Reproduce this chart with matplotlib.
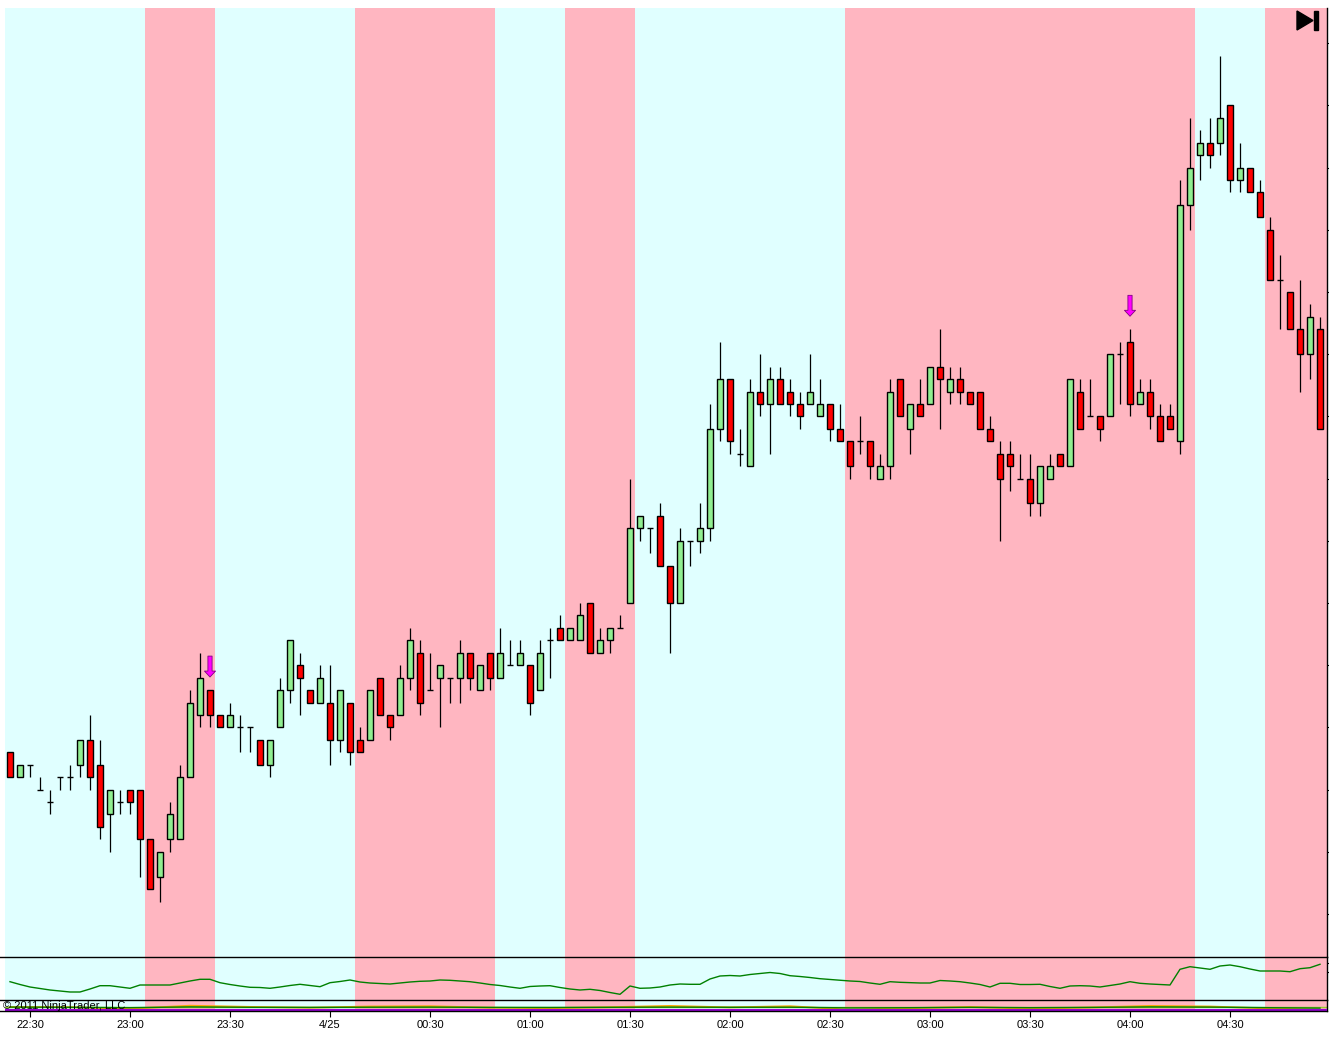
import numpy as np
import pandas as pd
import matplotlib
matplotlib.use('Agg')
import matplotlib.pyplot as plt
from matplotlib.lines import Line2D
from matplotlib.patches import Polygon, Rectangle

plt.rcParams['font.family'] = ['Liberation Sans', 'DejaVu Sans']

W, H = 1329, 1039

# 3 minute bars, prices in ticks above BASE
BASE = 1.4560
TICK = 0.0001
opens = [13, 11, 12, 10, 9, 11, 11, 12, 14, 12, 8, 9, 10, 10, 6, 3, 6, 6, 11, 16, 18, 16,
         15, 15, 15, 14, 12, 15, 18, 20, 18, 17, 17, 14, 17, 14, 14, 19, 16, 16, 19, 21, 18,
         19, 19, 19, 21, 18, 21, 19, 20, 20, 20, 18, 22, 23, 22, 22, 25, 21, 22, 23, 25, 31,
         31, 32, 28, 25, 30, 30, 31, 39, 43, 37, 36, 42, 41, 43, 42, 41, 41, 40, 41, 39, 38,
         38, 38, 35, 36, 43, 39, 41, 41, 44, 42, 43, 42, 42, 39, 37, 37, 35, 35, 33, 35, 37,
         36, 42, 40, 40, 40, 45, 46, 41, 42, 40, 40, 38, 57, 61, 62, 62, 65, 59, 60, 58, 55,
         51, 50, 47, 45, 47]
highs = [13, 12, 12, 11, 10, 11, 12, 14, 16, 14, 10, 10, 10, 10, 6, 5, 9, 12, 18, 21, 18, 16,
         17, 16, 15, 14, 14, 19, 22, 21, 18, 20, 20, 18, 17, 15, 18, 19, 16, 20, 23, 22, 21,
         20, 19, 22, 21, 20, 21, 23, 22, 22, 20, 22, 23, 24, 23, 25, 25, 23, 23, 24, 35, 32,
         31, 33, 28, 31, 30, 33, 41, 46, 43, 39, 43, 45, 44, 44, 43, 42, 45, 43, 41, 41, 38,
         40, 38, 37, 43, 43, 41, 43, 44, 47, 44, 44, 42, 42, 40, 38, 38, 37, 37, 36, 37, 37,
         43, 43, 43, 40, 45, 46, 47, 43, 43, 41, 41, 59, 64, 63, 64, 69, 65, 62, 60, 59, 56,
         53, 50, 51, 49, 48]
lows = [11, 11, 11, 10, 8, 10, 10, 11, 10, 6, 5, 8, 8, 3, 2, 1, 5, 6, 11, 15, 15, 15,
        15, 13, 13, 12, 11, 15, 17, 16, 17, 17, 12, 13, 12, 13, 14, 16, 14, 16, 18, 16, 18,
        15, 17, 17, 18, 18, 18, 19, 20, 20, 16, 18, 19, 22, 22, 22, 21, 21, 21, 23, 25, 30,
        29, 28, 21, 25, 28, 29, 30, 38, 37, 36, 36, 40, 37, 41, 40, 39, 41, 40, 38, 38, 35,
        37, 35, 35, 35, 40, 37, 40, 41, 39, 41, 41, 41, 39, 38, 30, 34, 35, 32, 32, 35, 36,
        36, 39, 40, 38, 40, 41, 40, 41, 39, 38, 39, 37, 55, 59, 60, 61, 58, 58, 58, 56, 51,
        47, 47, 42, 43, 39]
closes = [11, 12, 12, 10, 9, 11, 11, 14, 11, 7, 10, 9, 9, 6, 2, 5, 8, 11, 17, 19, 16, 15,
          16, 15, 15, 12, 14, 18, 22, 19, 17, 19, 14, 18, 13, 13, 18, 16, 15, 19, 22, 17, 18,
          20, 19, 21, 19, 20, 19, 21, 20, 21, 17, 21, 22, 22, 23, 24, 21, 22, 23, 23, 31, 32,
          31, 28, 25, 30, 30, 31, 39, 43, 38, 37, 42, 41, 43, 41, 41, 40, 42, 41, 39, 38, 36,
          38, 36, 36, 42, 40, 41, 40, 44, 43, 43, 42, 41, 39, 38, 35, 36, 35, 33, 36, 36, 36,
          43, 39, 40, 39, 45, 45, 41, 42, 40, 38, 39, 57, 60, 62, 61, 64, 59, 60, 58, 56, 51,
          51, 47, 45, 48, 39]

# bars (first, last) with pink background, the rest is light cyan
pink_spans = [(14, 20), (35, 48), (56, 62), (84, 118), (126, 131)]
# bars with a sell arrow above them
signal_bars = [20, 112]

# indicator panel (one value per bar)
adx = [18.6, 15.8, 13.3, 11.8, 10.3, 9.3, 8.3, 8.3, 11.3, 14.6, 14.6, 13.3, 12.0, 15.3,
       15.3, 15.3, 15.3, 17.3, 19.3, 21.0, 21.0, 17.6, 15.8, 14.3, 13.0, 12.8, 12.0, 13.3,
       14.8, 16.0, 14.8, 13.6, 17.6, 18.8, 20.3, 18.3, 17.3, 16.8, 16.3, 17.3, 18.3, 19.0,
       19.3, 20.3, 20.0, 19.3, 18.6, 17.3, 15.8, 14.8, 13.3, 12.0, 13.8, 14.3, 14.6, 12.8,
       11.3, 10.3, 11.0, 9.8, 7.8, 6.0, 14.3, 12.0, 12.3, 13.3, 15.3, 16.3, 16.0, 16.0,
       21.3, 24.3, 24.8, 24.3, 25.8, 26.8, 27.8, 26.8, 24.6, 23.8, 22.8, 21.6, 20.8, 20.1,
       19.3, 18.8, 17.3, 16.0, 18.6, 18.0, 17.6, 17.3, 17.3, 19.8, 19.3, 18.6, 17.3, 15.8,
       13.3, 17.0, 17.0, 15.8, 15.8, 16.0, 13.8, 12.0, 14.3, 14.6, 14.3, 13.3, 14.8, 16.3,
       18.6, 17.0, 16.3, 15.8, 15.3, 31.0, 33.6, 32.3, 31.0, 34.3, 35.3, 33.6, 31.3, 29.3,
       29.3, 29.3, 28.6, 31.6, 32.6, 36.0]

# small lower panel, read every 6 bars
sub_bars = [0, 6, 12, 18, 24, 30, 36, 42, 48, 54, 60, 66, 72, 78, 84, 90, 96, 102, 108,
            114, 120, 126, 131]
sub_orange = [3.7, 3.5, 2.0, 5.0, 3.8, 3.0, 4.2, 4.5, 3.0, 2.5, 3.5, 4.8, 3.3, 4.5, 1.0,
              2.5, 3.8, 2.0, 3.2, 4.8, 4.2, 2.2, 1.0]
sub_green = [3.6, 3.4, 3.0, 3.8, 3.4, 3.3, 3.5, 3.6, 3.3, 3.2, 3.4, 3.6, 3.4, 3.5, 2.8,
             3.0, 3.4, 3.0, 3.3, 3.8, 3.6, 3.0, 2.6]

CYAN = '#E0FFFF'
PINK = '#FFB6C1'


def rect(top, bot):
    # axes box from pixel rows
    return [5 / W, 1 - bot / H, (1327 - 5) / W, (bot - top) / H]


def fpx(px, py):
    return px / W, 1 - py / H


n = len(opens)
x = np.arange(n)
o = BASE + np.array(opens) * TICK
h = BASE + np.array(highs) * TICK
l = BASE + np.array(lows) * TICK
c = BASE + np.array(closes) * TICK
times = pd.date_range('2011-04-24 22:24', periods=n, freq='3min')

fig = plt.figure(figsize=(W / 100, H / 100), dpi=100)
fig.patch.set_facecolor('white')
ax = fig.add_axes(rect(8, 957.3))
ax2 = fig.add_axes(rect(957.3, 1000.3), sharex=ax)
ax3 = fig.add_axes(rect(1000.3, 1010.7), sharex=ax)

xmin, xmax = -0.5, 131.7
for a in (ax, ax2, ax3):
    a.set_facecolor(CYAN)
    for s, e in pink_spans:
        right = e + 0.5 if e < n - 1 else xmax + 1
        a.axvspan(s - 0.5, right, color=PINK, lw=0, zorder=0)
    for side in ('top', 'left', 'bottom'):
        a.spines[side].set_visible(False)
    a.spines['right'].set_linewidth(1)
    a.yaxis.tick_right()
    a.tick_params(axis='y', right=True, left=False, labelright=False, labelleft=False,
                  length=4, width=0.8)
    a.tick_params(axis='x', bottom=False, labelbottom=False)

# candles
ax.vlines(x, l, h, color='black', lw=0.9, zorder=2)
up = c > o
down = c < o
doji = c == o
ax.bar(x[up], (c - o)[up], bottom=o[up], width=0.52, color='#90EE90',
       edgecolor='black', linewidth=1.0, zorder=3)
ax.bar(x[down], (o - c)[down], bottom=c[down], width=0.52, color='#FF0000',
       edgecolor='black', linewidth=1.0, zorder=3)
ax.hlines(o[doji], x[doji] - 0.34, x[doji] + 0.34, color='black', lw=1.0, zorder=3)

for b in signal_bars:
    ax.annotate('', xy=(b, h[b]), xytext=(0, 34), textcoords='offset pixels',
                arrowprops=dict(arrowstyle='simple,head_length=0.43,head_width=0.8,tail_width=0.3',
                                fc='#FF00FF', ec='#800080', lw=0.6,
                                shrinkA=0, shrinkB=9.4, mutation_scale=10),
                zorder=4)

ax.set_xlim(xmin, xmax)
ax.set_ylim(BASE - 3.48 * TICK, BASE + 72.83 * TICK)
ax.set_yticks(BASE + np.arange(0, 75, 5) * TICK)

# indicator panel
ax2.plot(x, adx, color='#008000', lw=1.0, zorder=2)
ax2.set_ylim(0, 43)
ax2.set_yticks([28, 37])

# lower panel
ax3.axhline(4.0, color='#9ACD32', lw=1.0, zorder=2)
ax3.plot(sub_bars, sub_green, color='#008000', lw=1.0, zorder=3)
ax3.plot(sub_bars, sub_orange, color='#FFA500', lw=1.3, zorder=2)
ax3.axhline(0.5, color='#9400D3', lw=1.5, zorder=3)
ax3.set_ylim(0, 10.4)
ax3.set_yticks([])

tick_idx = [i for i, t in enumerate(times) if t.minute % 30 == 0]
tick_lab = [f'{times[i].month}/{times[i].day}' if times[i].hour == 0 and times[i].minute == 0
            else times[i].strftime('%H:%M') for i in tick_idx]
ax3.set_xticks(tick_idx)
ax3.set_xticklabels(tick_lab)
ax3.tick_params(axis='x', bottom=True, labelbottom=True, length=4, width=0.8,
                pad=3, labelsize=8, colors='black')
ax.set_xlim(xmin, xmax)

# panel separators and bottom axis line
for yy in (957.3, 1000.3, 1010.7):
    fig.add_artist(Line2D([0, 1327 / W], [1 - yy / H, 1 - yy / H], color='black',
                          lw=1.0, transform=fig.transFigure))

# "go to end" button in the corner
tri = Polygon([fpx(1297, 11), fpx(1313, 20.5), fpx(1297, 30)], closed=True,
              transform=fig.transFigure, color='black')
fig.add_artist(tri)
x0, y0 = fpx(1314, 30)
fig.add_artist(Rectangle((x0, y0), 3.5 / W, 19 / H, transform=fig.transFigure, color='black'))

fig.text(3 / W, 1 - 1006 / H, '\u00a9 2011 NinjaTrader, LLC', fontsize=8,
         va='center', ha='left', color='black', zorder=10)

fig.savefig('out.png', dpi=100)
